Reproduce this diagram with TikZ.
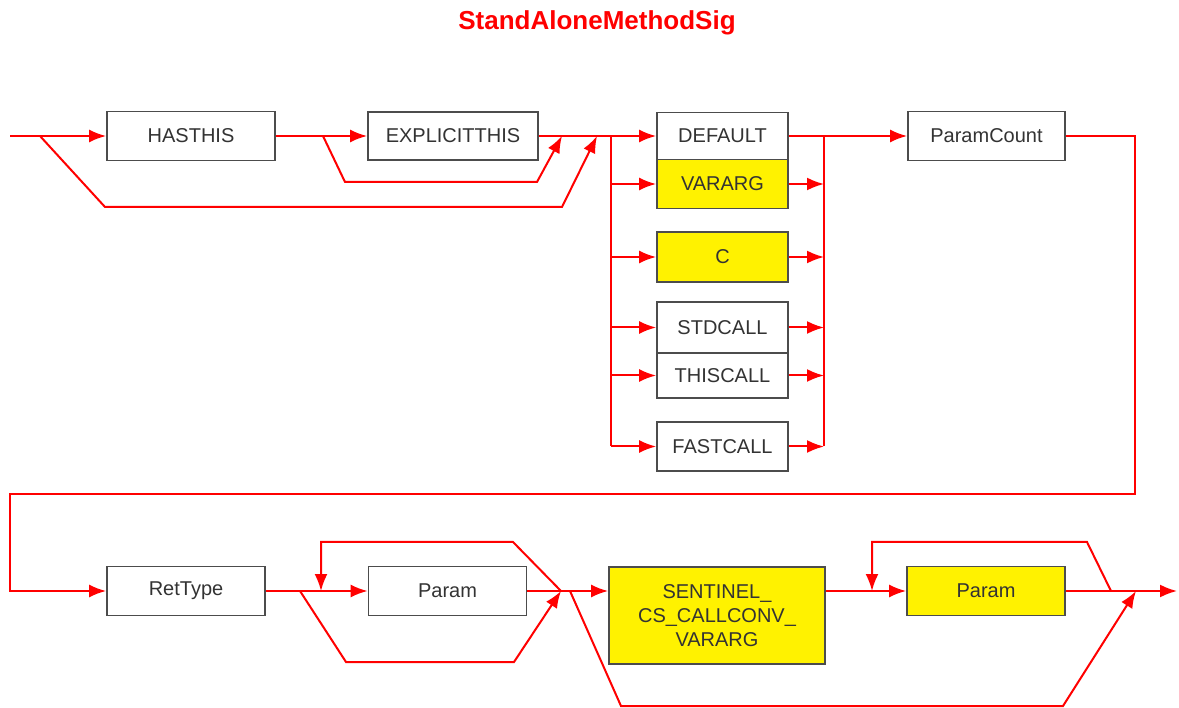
\documentclass[tikz,border=0pt]{standalone}
\usepackage{fontspec}
\setmainfont{Liberation Sans}
\usetikzlibrary{arrows.meta}
\begin{document}
\begin{tikzpicture}[x=1pt,y=-1pt,
  box/.style={draw=black!70, line width=1.8pt, fill=white, inner sep=0pt,
    font=\fontsize{20}{24}\selectfont, text=black!80},
  ybox/.style={box, fill=yellow},
  conn/.style={red, line width=2pt, line join=miter},
  arr/.style={conn, -{Latex[length=17pt,width=13pt]}},
  title/.style={font=\fontsize{26}{30}\selectfont\bfseries, text=red}]
\useasboundingbox (0,0) rectangle (1179,708);

\node[title, anchor=base] (ttl) at (597,30) {StandAloneMethodSig};

% top row boxes
\node[box, minimum width=168pt, minimum height=49pt] (hasthis) at (191,136) {HASTHIS};
\node[box, minimum width=170pt, minimum height=48pt] (explicit) at (453,136) {EXPLICITTHIS};
\node[box, minimum width=131pt, minimum height=47pt] (default) at (722.5,136) {DEFAULT};
\node[ybox, minimum width=131pt, minimum height=49pt] (vararg) at (722.5,184) {VARARG};
\node[ybox, minimum width=131pt, minimum height=50pt] (cconv) at (722.5,257) {C};
\node[box, minimum width=131pt, minimum height=51pt] (stdcall) at (722.5,327.5) {STDCALL};
\node[box, minimum width=131pt, minimum height=45pt] (thiscall) at (722.5,375.5) {THISCALL};
\node[box, minimum width=131pt, minimum height=49pt] (fastcall) at (722.5,446.5) {FASTCALL};
\node[box, minimum width=157pt, minimum height=49pt] (pcount) at (986.5,136) {ParamCount};

% bottom row boxes
\node[box, minimum width=158pt, minimum height=49pt] (rettype) at (186,591) {RetType};
\node[box, minimum width=158pt, minimum height=49pt] (param1) at (447.5,591) {Param};
\node[ybox, minimum width=216pt, minimum height=97pt, align=center] (sentinel) at (717,615.5) {SENTINEL\_\\CS\_CALLCONV\_\\VARARG};
\node[ybox, minimum width=158pt, minimum height=49pt] (param2) at (986,591) {Param};

% coordinates top row
\coordinate (start) at (10,136);
\coordinate (b1) at (40,136);
\coordinate (b1a) at (105,207);
\coordinate (b1b) at (562,207);
\coordinate (j2) at (597,136);
\coordinate (b2) at (323,136);
\coordinate (b2a) at (345,182);
\coordinate (b2b) at (537,182);
\coordinate (j1) at (562,136);
\coordinate (lbt) at (611,136);
\coordinate (lbb) at (611,446.5);
\coordinate (rbt) at (824,136);
\coordinate (rbb) at (824,446.5);
\coordinate (pc1) at (1135,136);
\coordinate (pc2) at (1135,494);
\coordinate (pc3) at (10,494);
\coordinate (pc4) at (10,591);

% top row connectors
\draw[arr] (start) -- (hasthis.west);
\draw[arr] (b1) -- (b1a) -- (b1b) -- (j2);
\draw[arr] (hasthis.east) -- (explicit.west);
\draw[arr] (b2) -- (b2a) -- (b2b) -- (j1);
\draw[arr] (explicit.east) -- (default.west);
\draw[conn] (lbt) -- (lbb);
\draw[conn] (rbt) -- (rbb);
\foreach \n in {vararg,cconv,stdcall,thiscall,fastcall}{
  \draw[arr] (lbt |- \n.west) -- (\n.west);
  \draw[arr] (\n.east) -- (rbt |- \n.east);
}
\draw[arr] (default.east) -- (pcount.west);
\draw[arr] (pcount.east) -- (pc1) -- (pc2) -- (pc3) -- (pc4) -- (rettype.west);

% bottom row coordinates
\coordinate (l1a) at (561,591);
\coordinate (l1b) at (513,542);
\coordinate (l1c) at (321,542);
\coordinate (l1d) at (321,591);
\coordinate (u1) at (300,591);
\coordinate (u1a) at (346,662);
\coordinate (u1b) at (514,662);
\coordinate (u1c) at (561,591);
\coordinate (g0) at (570,591);
\coordinate (g1) at (621,706);
\coordinate (g2) at (1063,706);
\coordinate (g3) at (1136,591);
\coordinate (l2a) at (1111,591);
\coordinate (l2b) at (1087,542);
\coordinate (l2c) at (872,542);
\coordinate (l2d) at (872,591);
\coordinate (fin) at (1177,591);

% bottom row connectors
\draw[arr] (rettype.east) -- (param1.west);
\draw[arr] (l1a) -- (l1b) -- (l1c) -- (l1d);
\draw[arr] (u1) -- (u1a) -- (u1b) -- (u1c);
\draw[arr] (param1.east) -- (sentinel.west |- param1.east);
\draw[arr] (g0) -- (g1) -- (g2) -- (g3);
\draw[arr] (sentinel.east |- param2.west) -- (param2.west);
\draw[arr] (l2a) -- (l2b) -- (l2c) -- (l2d);
\draw[arr] (param2.east) -- (fin);
\end{tikzpicture}
\end{document}
